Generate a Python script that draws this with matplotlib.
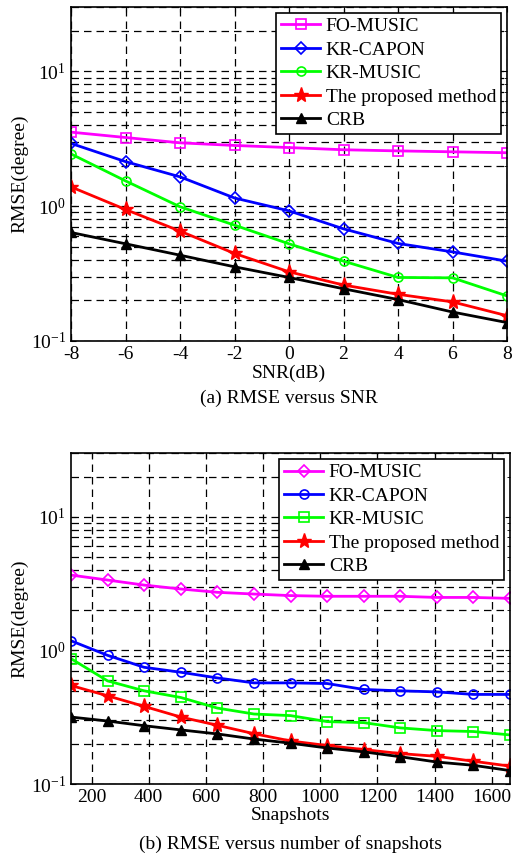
import matplotlib
matplotlib.use('Agg')
import matplotlib.pyplot as plt
from matplotlib.ticker import LogLocator, NullFormatter

plt.rcParams['font.family'] = ['Liberation Serif', 'DejaVu Serif']
plt.rcParams['mathtext.fontset'] = 'custom'
plt.rcParams['mathtext.rm'] = 'Liberation Serif'
plt.rcParams['mathtext.it'] = 'Liberation Serif:italic'
plt.rcParams['axes.unicode_minus'] = False

# (a) RMSE versus SNR
snr = [-8, -6, -4, -2, 0, 2, 4, 6, 8]
a_fo_music = [3.54, 3.23, 2.95, 2.82, 2.72, 2.62, 2.57, 2.53, 2.49]
a_kr_capon = [2.92, 2.14, 1.65, 1.15, 0.923, 0.679, 0.529, 0.458, 0.391]
a_kr_music = [2.44, 1.54, 0.99, 0.723, 0.526, 0.391, 0.296, 0.294, 0.216]
a_proposed = [1.39, 0.945, 0.653, 0.446, 0.326, 0.26, 0.222, 0.195, 0.154]
a_crb = [0.638, 0.526, 0.433, 0.355, 0.296, 0.244, 0.203, 0.164, 0.137]

# (b) RMSE versus number of snapshots
snapshots = [128, 256, 384, 512, 640, 768, 896, 1024, 1152, 1280, 1408, 1536, 1664]
b_fo_music = [3.66, 3.36, 3.08, 2.88, 2.72, 2.64, 2.57, 2.54, 2.54, 2.54, 2.49, 2.49, 2.45]
b_kr_capon = [1.18, 0.918, 0.747, 0.686, 0.622, 0.571, 0.571, 0.565, 0.510, 0.498, 0.489, 0.468, 0.468]
b_kr_music = [0.867, 0.591, 0.498, 0.444, 0.370, 0.334, 0.325, 0.293, 0.288, 0.263, 0.251, 0.247, 0.233]
b_proposed = [0.546, 0.457, 0.381, 0.317, 0.275, 0.238, 0.210, 0.194, 0.181, 0.169, 0.161, 0.148, 0.136]
b_crb = [0.317, 0.296, 0.273, 0.254, 0.237, 0.217, 0.202, 0.186, 0.174, 0.160, 0.146, 0.138, 0.126]

labels = ['FO-MUSIC', 'KR-CAPON', 'KR-MUSIC', 'The proposed method', 'CRB']
FS = 14

fig = plt.figure(figsize=(5.19, 8.57), dpi=100)
ax1 = fig.add_axes([71/519, 1-341/857, (507-71)/519, (341-7)/857])
ax2 = fig.add_axes([71/519, 1-784/857, (510-71)/519, (784-453)/857])


def style_axes(ax):
    ax.set_yscale('log')
    ax.set_ylim(0.1, 30)
    ax.yaxis.set_major_locator(LogLocator(base=10, numticks=10))
    ax.yaxis.set_minor_locator(LogLocator(base=10, subs=range(2, 10), numticks=20))
    ax.yaxis.set_minor_formatter(NullFormatter())
    ax.grid(True, which='major', axis='both', color='black', linestyle=(0, (6, 4)), linewidth=0.9)
    ax.grid(True, which='minor', axis='y', color='black', linestyle=(0, (6, 4)), linewidth=0.9)
    ax.tick_params(which='both', direction='in', top=True, right=True, labelsize=FS)
    ax.set_ylabel('RMSE(degree)', fontsize=FS, labelpad=2)
    for s in ax.spines.values():
        s.set_linewidth(1.2)


def add_legend(ax):
    leg = ax.legend(loc='upper right', fontsize=FS, fancybox=False, framealpha=1,
                    edgecolor='black', handlelength=2.0, borderaxespad=0.3,
                    labelspacing=0.3, borderpad=0.25, handletextpad=0.3)
    leg.get_frame().set_linewidth(1.2)


# top panel
ax1.plot(snr, a_fo_music, '-s', color='magenta', lw=2, ms=6.5, mfc='none', mew=1.2, label=labels[0])
ax1.plot(snr, a_kr_capon, '-D', color='blue', lw=2, ms=6.5, mfc='none', mew=1.2, label=labels[1])
ax1.plot(snr, a_kr_music, '-o', color='#00ff00', lw=2, ms=6.5, mfc='none', mew=1.2, label=labels[2])
ax1.plot(snr, a_proposed, '-*', color='red', lw=2, ms=11, label=labels[3])
ax1.plot(snr, a_crb, '-^', color='black', lw=2, ms=7.5, label=labels[4])
style_axes(ax1)
ax1.set_xlim(-8, 8)
ax1.set_xticks(snr)
ax1.set_xticklabels([str(v) for v in snr])
ax1.set_xlabel('SNR(dB)', fontsize=FS, labelpad=1)
add_legend(ax1)
fig.text(0.5 * (71 + 507) / 519, 1 - 398/857, '(a) RMSE versus SNR', ha='center', va='center', fontsize=FS)

# bottom panel
ax2.plot(snapshots, b_fo_music, '-D', color='magenta', lw=2, ms=6.5, mfc='none', mew=1.2, label=labels[0])
ax2.plot(snapshots, b_kr_capon, '-o', color='blue', lw=2, ms=6.5, mfc='none', mew=1.2, label=labels[1])
ax2.plot(snapshots, b_kr_music, '-s', color='#00ff00', lw=2, ms=6.5, mfc='none', mew=1.2, label=labels[2])
ax2.plot(snapshots, b_proposed, '-*', color='red', lw=2, ms=11, label=labels[3])
ax2.plot(snapshots, b_crb, '-^', color='black', lw=2, ms=7.5, label=labels[4])
style_axes(ax2)
ax2.set_xlim(128, 1664)
ax2.set_xticks(range(200, 1601, 200))
ax2.set_xlabel('Snapshots', fontsize=FS, labelpad=1)
add_legend(ax2)
fig.text(0.5 * (71 + 510) / 519, 1 - 844/857, '(b) RMSE versus number of snapshots', ha='center', va='center', fontsize=FS)

fig.savefig('out.png', dpi=100)
